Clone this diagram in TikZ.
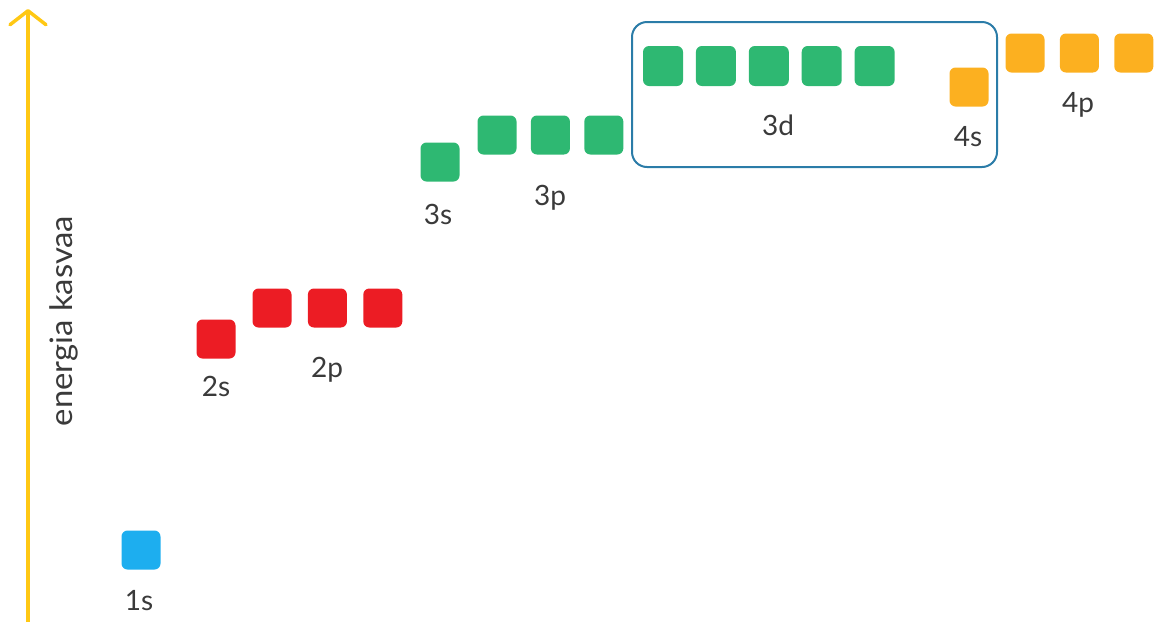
\documentclass[tikz,border=0pt]{standalone}
\usepackage{fontspec}
\setmainfont{Lato}
\usetikzlibrary{arrows.meta, positioning}

\definecolor{orbblue}{HTML}{1DAEEF}
\definecolor{orbred}{HTML}{EC1C24}
\definecolor{orbgreen}{HTML}{2EB872}
\definecolor{orborange}{HTML}{FCB020}
\definecolor{framblue}{HTML}{2B7CA8}
\definecolor{axisyellow}{HTML}{FFC814}
\definecolor{labelgrey}{HTML}{3A3A3A}

\begin{document}
\begin{tikzpicture}[
    x=1pt, y=-1pt,
    node distance=14pt,
    orb/.style={rectangle, rounded corners=6pt, minimum size=39pt, inner sep=0pt},
    lbl/.style={anchor=base, text=labelgrey, font=\fontsize{28}{32}\selectfont, inner sep=0pt},
    axis/.style={line width=3.5pt, draw=axisyellow, -{Straight Barb[length=14pt, width=36pt, round]}}
]
    \useasboundingbox (0,0) rectangle (1160,630);

    % energy axis
    \coordinate (low) at (28,622);
    \coordinate (high) at (28,9);
    \draw [axis] (low) -- (high);
    \node (energy) [lbl, rotate=90, font=\fontsize{31}{36}\selectfont, xscale=1.06] at (72,321) {energia kasvaa};

    % 1s
    \node (s1) [orb, fill=orbblue] at (141,550) {};
    \node (l1s) [lbl] at (139,610) {1s};

    % 2s and 2p
    \node (s2) [orb, fill=orbred] at (216,339) {};
    \node (p2a) [orb, fill=orbred] at (272,308) {};
    \node (p2b) [orb, fill=orbred, right=16pt of p2a] {};
    \node (p2c) [orb, fill=orbred, right=16pt of p2b] {};
    \node (l2s) [lbl] at (216,396) {2s};
    \node (l2p) [lbl] at (327,377) {2p};

    % 3s and 3p
    \node (s3) [orb, fill=orbgreen] at (440,162) {};
    \node (p3a) [orb, fill=orbgreen] at (497,135) {};
    \node (p3b) [orb, fill=orbgreen, right=of p3a] {};
    \node (p3c) [orb, fill=orbgreen, right=of p3b] {};
    \node (l3s) [lbl] at (438,224) {3s};
    \node (l3p) [lbl] at (550,205) {3p};

    % 3d
    \node (d3a) [orb, fill=orbgreen, minimum size=40pt] at (663,66) {};
    \node (d3b) [orb, fill=orbgreen, minimum size=40pt, right=12.5pt of d3a] {};
    \node (d3c) [orb, fill=orbgreen, minimum size=40pt, right=12.5pt of d3b] {};
    \node (d3d) [orb, fill=orbgreen, minimum size=40pt, right=12.5pt of d3c] {};
    \node (d3e) [orb, fill=orbgreen, minimum size=40pt, right=12.5pt of d3d] {};
    \node (l3d) [lbl] at (778,135) {3d};

    % 4s and 4p
    \node (s4) [orb, fill=orborange] at (969,87) {};
    \node (p4a) [orb, fill=orborange] at (1025,53) {};
    \node (p4b) [orb, fill=orborange, right=15pt of p4a] {};
    \node (p4c) [orb, fill=orborange, right=15pt of p4b] {};
    \node (l4s) [lbl] at (968,146) {4s};
    \node (l4p) [lbl] at (1078,112) {4p};

    % frame round 3d and 4s
    \draw [framblue, line width=2pt, rounded corners=15pt] (632,22) rectangle (997,167);
\end{tikzpicture}
\end{document}
